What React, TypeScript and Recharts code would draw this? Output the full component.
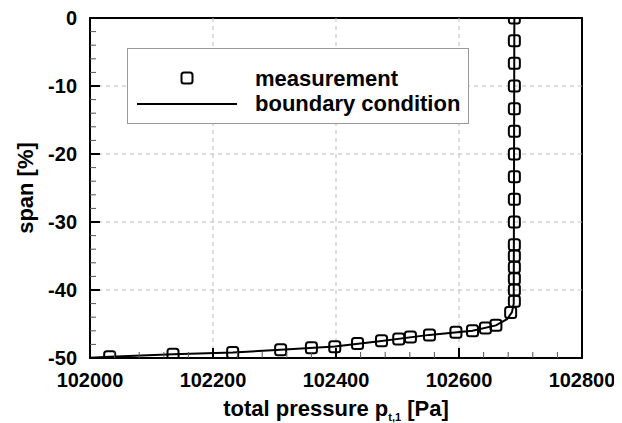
import React from 'react';
import {
  ComposedChart,
  Scatter,
  XAxis,
  YAxis,
  ReferenceLine,
  ReferenceArea,
  Label,
  Legend,
} from 'recharts';

// ---- data ----
const MEAS_PRESSURE = [
  102690, 102690, 102690, 102690, 102690, 102690, 102690, 102690, 102690,
  102690, 102690, 102690, 102690, 102690, 102690, 102690, 102684, 102660,
  102643, 102622, 102595, 102552, 102521, 102502, 102474, 102435, 102398,
  102360, 102310, 102232, 102135, 102032,
];
const MEAS_SPAN = [
  0, -3.33, -6.67, -10, -13.33, -16.67, -20, -23.33, -26.67,
  -30, -33.33, -35, -36.67, -38.33, -40, -41.67, -43.3, -45.2,
  -45.6, -46.0, -46.2, -46.6, -46.9, -47.2, -47.45, -47.85, -48.35,
  -48.5, -48.8, -49.2, -49.45, -49.8,
];

const BC_PRESSURE = [
  102000, 102032, 102135, 102232, 102310, 102398, 102474, 102552, 102622,
  102660, 102678, 102686, 102689, 102690,
];
const BC_SPAN = [
  -49.95, -49.8, -49.45, -49.2, -48.8, -48.3, -47.5, -46.6, -46.0,
  -45.2, -44.3, -43.3, -42.0, 0,
];

const X_MAJOR = [102000, 102200, 102400, 102600, 102800];
const X_MINOR = [
  102040, 102080, 102120, 102160, 102240, 102280, 102320, 102360,
  102440, 102480, 102520, 102560, 102640, 102680, 102720, 102760,
];
const Y_MAJOR = [0, -10, -20, -30, -40, -50];
const Y_MINOR = [
  -2, -4, -6, -8, -12, -14, -16, -18, -22, -24, -26, -28,
  -32, -34, -36, -38, -42, -44, -46, -48,
];
const X_GRID = [102200, 102400, 102600];
const Y_GRID = [-10, -20, -30, -40];

const measData = MEAS_PRESSURE.map((p, i) => ({ p, span: MEAS_SPAN[i] }));
const bcData = BC_PRESSURE.map((p, i) => ({ p, span: BC_SPAN[i] }));

const FONT = '"Liberation Sans", Arial, Helvetica, sans-serif';
const X_TICK_MARGIN = 15;
const Y_TICK_MARGIN = 13;

const XTick = (props: any) => {
  const { x, y, payload } = props;
  const major = X_MAJOR.includes(payload.value);
  const axisY = y - X_TICK_MARGIN;
  return (
    <g>
      <line
        x1={x}
        x2={x}
        y1={axisY}
        y2={axisY - (major ? 10 : 6)}
        stroke={major ? '#000' : '#555'}
        strokeWidth={major ? 2 : 1}
      />
      {major && (
        <text
          x={x}
          y={y}
          dy="0.72em"
          textAnchor="middle"
          fontFamily={FONT}
          fontWeight="bold"
          fontSize={20}
          fill="#000"
        >
          {payload.value}
        </text>
      )}
    </g>
  );
};

const YTick = (props: any) => {
  const { x, y, payload } = props;
  const major = Y_MAJOR.includes(payload.value);
  const axisX = x + Y_TICK_MARGIN;
  return (
    <g>
      <line
        x1={axisX}
        x2={axisX + (major ? 10 : 6)}
        y1={y}
        y2={y}
        stroke={major ? '#000' : '#555'}
        strokeWidth={major ? 2 : 1}
      />
      {major && (
        <text
          x={x}
          y={y}
          dy="0.36em"
          textAnchor="end"
          fontFamily={FONT}
          fontWeight="bold"
          fontSize={20}
          fill="#000"
        >
          {payload.value}
        </text>
      )}
    </g>
  );
};

const SquareShape = (props: any) => {
  const { cx, cy } = props;
  if (cx == null || cy == null) return <g />;
  return (
    <rect
      x={cx - 5.5}
      y={cy - 5.5}
      width={11}
      height={11}
      rx={2.5}
      ry={2.5}
      fill="none"
      stroke="#000"
      strokeWidth={2}
    />
  );
};

const NoShape = () => <g />;

const XLabel = (props: any) => {
  const vb = props.viewBox || {};
  return (
    <text
      x={vb.x + vb.width / 2}
      y={vb.y + 58}
      textAnchor="middle"
      fontFamily={FONT}
      fontWeight="bold"
      fontSize={22}
      fill="#000"
    >
      total pressure p
      <tspan fontSize={11} dy={5}>t,1</tspan>
      <tspan fontSize={22} dy={-5}> [Pa]</tspan>
    </text>
  );
};

const YLabel = (props: any) => {
  const vb = props.viewBox || {};
  const cx = vb.x + 17;
  const cy = vb.y + vb.height / 2;
  return (
    <text
      x={cx}
      y={cy}
      dy="0.36em"
      textAnchor="middle"
      transform={`rotate(-90, ${cx}, ${cy})`}
      fontFamily={FONT}
      fontWeight="bold"
      fontSize={22}
      fill="#000"
    >
      span [%]
    </text>
  );
};

const LegendBox = () => (
  <svg width={342} height={76} style={{ display: 'block' }}>
    <rect x={0.5} y={0.5} width={341} height={75} fill="#fff" stroke="#999" strokeWidth={1} />
    <rect x={54.5} y={24.5} width={11} height={11} rx={2.5} ry={2.5} fill="none" stroke="#000" strokeWidth={2} />
    <line x1={10} x2={110} y1={56} y2={56} stroke="#000" strokeWidth={2} />
    <text x={128} y={30} dy="0.36em" fontFamily={FONT} fontWeight="bold" fontSize={22} fill="#000">
      measurement
    </text>
    <text x={128} y={55} dy="0.36em" fontFamily={FONT} fontWeight="bold" fontSize={22} fill="#000">
      boundary condition
    </text>
  </svg>
);

export default function App() {
  return (
    <div style={{ width: 614, height: 415 }}>
      <ComposedChart
        width={614}
        height={415}
        margin={{ top: 10, right: 40, bottom: 0, left: 0 }}
      >
        <XAxis
          type="number"
          dataKey="p"
          domain={[102000, 102800]}
          ticks={[...X_MAJOR, ...X_MINOR].sort((a, b) => a - b)}
          interval={0}
          allowDataOverflow
          height={65}
          axisLine={false}
          tickLine={false}
          tickSize={0}
          tickMargin={X_TICK_MARGIN}
          tick={<XTick />}
        >
          <Label content={<XLabel />} />
        </XAxis>
        <YAxis
          type="number"
          dataKey="span"
          domain={[-50, 0]}
          ticks={[...Y_MAJOR, ...Y_MINOR].sort((a, b) => b - a)}
          interval={0}
          allowDataOverflow
          width={82}
          axisLine={false}
          tickLine={false}
          tickSize={0}
          tickMargin={Y_TICK_MARGIN}
          tick={<YTick />}
        >
          <Label content={<YLabel />} />
        </YAxis>
        {X_GRID.map((v) => (
          <ReferenceLine key={'gx' + v} x={v} stroke="#bbb" strokeWidth={1} strokeDasharray="4 4" />
        ))}
        {Y_GRID.map((v) => (
          <ReferenceLine key={'gy' + v} y={v} stroke="#bbb" strokeWidth={1} strokeDasharray="4 4" />
        ))}
        <ReferenceArea
          x1={102000}
          x2={102800}
          y1={-50}
          y2={0}
          fill="none"
          fillOpacity={0}
          stroke="#000"
          strokeWidth={2}
        />
        <Legend
          layout="vertical"
          align="center"
          verticalAlign="middle"
          wrapperStyle={{ left: 119, top: 40, width: 342, height: 76 }}
          content={() => <LegendBox />}
        />
        <Scatter
          name="boundary condition"
          data={bcData}
          line={{ stroke: '#000', strokeWidth: 2 }}
          lineType="joint"
          shape={<NoShape />}
          isAnimationActive={false}
        />
        <Scatter
          name="measurement"
          data={measData}
          shape={<SquareShape />}
          isAnimationActive={false}
        />
      </ComposedChart>
    </div>
  );
}
